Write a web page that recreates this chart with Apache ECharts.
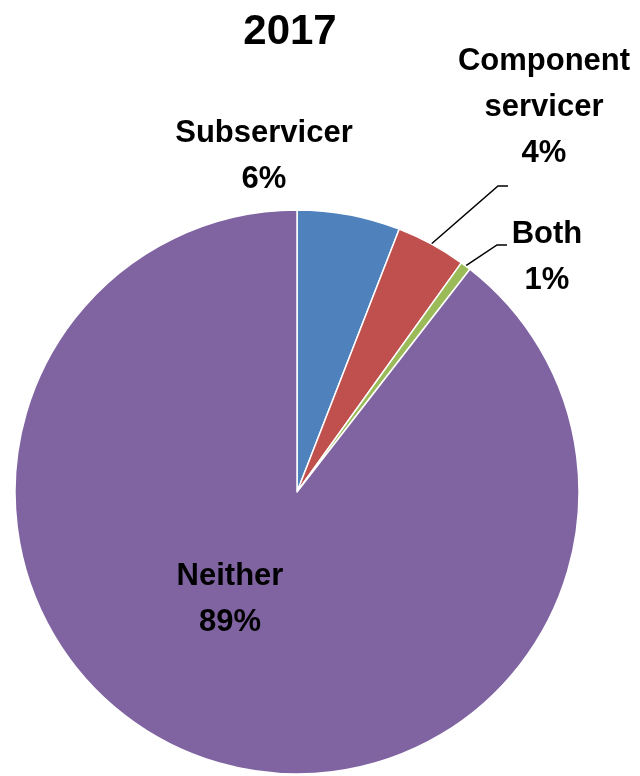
<!DOCTYPE html>
<html>
<head>
<meta charset="utf-8">
<script src="https://cdn.jsdelivr.net/npm/echarts@6/dist/echarts.min.js"></script>
<style>
html,body{margin:0;padding:0;background:#fff;}
#chart{width:640px;height:776px;}
</style>
</head>
<body>
<div id="chart"></div>
<script>
// ---- data ----
const chartTitle = '2017';
const categories = ['Subservicer', 'Component servicer', 'Both', 'Neither'];
const values = [5.9, 4.0, 0.6, 89.5];

// ---- styles / layout (not data) ----
const colors = ['#4F81BD', '#C0504D', '#9BBB59', '#8064A2'];
const FONT = '"Liberation Sans", Arial, sans-serif';
const pieCenter = [297, 492];
const pieRadius = 282;
// label anchor positions (centre of label block) and leader elbows
const labelPos = [
  { x: 264, y: 156 },
  { x: 544, y: 107, line: [[498, 186], [508, 186]] },
  { x: 547, y: 257, line: [[497, 245], [507, 245]] },
  { x: 230, y: 599 }
];

const chart = echarts.init(document.getElementById('chart'), null, { renderer: 'canvas' });

const total = values.reduce((a, b) => a + b, 0);
function edgePoint(i) {
  let cum = 0;
  for (let k = 0; k < i; k++) cum += values[k];
  const mid = (cum + values[i] / 2) / total * Math.PI * 2;
  return [pieCenter[0] + pieRadius * Math.sin(mid), pieCenter[1] - pieRadius * Math.cos(mid)];
}

const data = categories.map((name, i) => ({
  name: name,
  value: values[i],
  itemStyle: { color: colors[i] },
  label: { position: i === 3 ? 'inside' : 'outside' },
  labelLine: { show: !!labelPos[i].line }
}));

chart.setOption({
  animation: false,
  title: {
    text: chartTitle,
    left: 285,
    textAlign: 'center',
    top: 6,
    textStyle: { fontFamily: FONT, fontSize: 42, fontWeight: 'bold', color: '#000' }
  },
  series: [{
    type: 'pie',
    center: pieCenter,
    radius: pieRadius,
    startAngle: 90,
    clockwise: true,
    percentPrecision: 0,
    avoidLabelOverlap: false,
    itemStyle: { borderColor: '#fff', borderWidth: 1.5 },
    label: {
      show: true,
      formatter: p => p.name.replace(' ', '\n') + '\n' + p.percent + '%',
      fontFamily: FONT,
      fontSize: 31,
      fontWeight: 'bold',
      color: '#000',
      lineHeight: 46,
      align: 'center'
    },
    labelLine: { show: true, lineStyle: { color: '#000', width: 1.5 }, length: 20, length2: 10 },
    labelLayout: function (p) {
      const pos = labelPos[p.dataIndex];
      const out = { x: pos.x, y: pos.y, align: 'center', verticalAlign: 'middle' };
      if (pos.line) {
        const start = (p.labelLinePoints && p.labelLinePoints[0]) || edgePoint(p.dataIndex);
        out.labelLinePoints = [start, pos.line[0], pos.line[1]];
      }
      return out;
    },
    data: data
  }]
});
</script>
</body>
</html>
